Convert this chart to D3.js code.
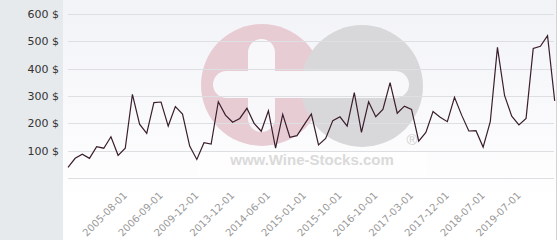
<!DOCTYPE html>
<html>
<head>
<meta charset="utf-8">
<script src="https://cdn.jsdelivr.net/npm/d3@7"></script>
<style>
  body { margin: 0; background: #fff; }
</style>
</head>
<body>
<div id="chart"></div>
<script>
// price per date (categories are irregular dates, only every 5th one is labelled)
var values = [39, 72, 87, 72, 115, 109, 151, 83, 109, 306,
              197, 163, 276, 278, 190, 261, 234, 117, 68, 129,
              124, 279, 230, 204, 218, 255, 200, 171, 246, 109,
              233, 149, 155, 195, 234, 121, 145, 210, 224, 190,
              312, 167, 279, 224, 251, 349, 237, 263, 251, 135,
              167, 243, 222, 206, 295, 230, 172, 173, 113, 206,
              478, 301, 226, 194, 218, 474, 482, 521, 282];

var tickLabels = ["2005-08-01", "2006-09-01", "2009-12-01", "2013-12-01",
                  "2014-06-01", "2015-01-01", "2015-10-01", "2016-10-01",
                  "2017-03-01", "2017-12-01", "2018-07-01", "2019-07-01"];
var tickIndex = [8, 13, 18, 23, 28, 33, 38, 43, 48, 53, 58, 63];

var yTicks = [100, 200, 300, 400, 500, 600];
var gridTicks = [0, 100, 200, 300, 400, 500, 600];

var width = 560, height = 240;
var plotLeft = 63, plotRight = 556;

var svg = d3.select("#chart")
  .append("svg")
    .attr("width", width)
    .attr("height", height);

// backgrounds
var grad = svg.append("defs").append("linearGradient")
    .attr("id", "bg")
    .attr("x1", 0).attr("y1", 0).attr("x2", 0).attr("y2", 1);
grad.append("stop").attr("offset", "0%").attr("stop-color", "#f2f3f7");
grad.append("stop").attr("offset", "85%").attr("stop-color", "#ffffff");

svg.append("rect")
    .attr("x", 0).attr("y", 0)
    .attr("width", plotLeft).attr("height", height)
    .attr("fill", "#e6eaed");

svg.append("rect")
    .attr("x", plotLeft).attr("y", 0)
    .attr("width", plotRight - plotLeft).attr("height", height)
    .attr("fill", "url(#bg)");

svg.append("line")
    .attr("x1", plotRight + 0.5).attr("x2", plotRight + 0.5)
    .attr("y1", 0).attr("y2", height)
    .attr("stroke", "#d4d4d4");

// scales
var x = d3.scalePoint()
    .domain(d3.range(values.length))
    .range([68, 554.7]);

var y = d3.scaleLinear()
    .domain([0, 600])
    .range([178, 14]);

// watermark logo
var logo = svg.append("g");
logo.append("circle").attr("cx", 262).attr("cy", 85).attr("r", 61).attr("fill", "#e8ccd4");
logo.append("circle").attr("cx", 362).attr("cy", 86).attr("r", 61).attr("fill", "#d8d8da");
logo.append("rect").attr("x", 213).attr("y", 71).attr("width", 196).attr("height", 27)
    .attr("rx", 13.5).attr("fill", "#f8f8fa");
logo.append("rect").attr("x", 248).attr("y", 39).attr("width", 27).attr("height", 93)
    .attr("rx", 13.5).attr("fill", "#f8f8fa");
logo.append("text")
    .attr("x", 412).attr("y", 145)
    .attr("text-anchor", "middle")
    .attr("font-family", "Liberation Sans, Arial, sans-serif")
    .attr("font-size", 15)
    .attr("fill", "#cfcfcf")
    .text("®");
logo.append("rect").attr("x", 197).attr("y", 152).attr("width", 230).attr("height", 25)
    .attr("fill", "#ffffff").attr("opacity", 0.6);
logo.append("text")
    .attr("x", 312).attr("y", 165)
    .attr("text-anchor", "middle")
    .attr("font-family", "Liberation Sans, Arial, sans-serif")
    .attr("font-weight", "bold")
    .attr("font-size", 15)
    .attr("fill", "#dadada")
    .text("www.Wine-Stocks.com");

// grid lines
svg.append("g")
  .selectAll("line")
  .data(gridTicks)
  .enter().append("line")
    .attr("x1", 68).attr("x2", 554)
    .attr("y1", function(d) { return Math.round(y(d)) + 0.5; })
    .attr("y2", function(d) { return Math.round(y(d)) + 0.5; })
    .attr("stroke", "#dedfe3");

// y axis
var yAxis = svg.append("g")
    .attr("transform", "translate(59,0)")
    .call(d3.axisLeft(y).tickValues(yTicks).tickSize(0).tickPadding(0)
      .tickFormat(function(d) { return d + " $"; }));
yAxis.select(".domain").remove();
yAxis.selectAll("text")
    .attr("font-family", "DejaVu Sans, sans-serif")
    .attr("font-size", 11)
    .attr("fill", "#333");

// x axis
var xAxis = svg.append("g")
    .attr("transform", "translate(0,178)")
    .call(d3.axisBottom(x).tickValues(tickIndex).tickSize(0)
      .tickFormat(function(d, i) { return tickLabels[i]; }));
xAxis.select(".domain").remove();
xAxis.selectAll("text")
    .attr("font-family", "DejaVu Sans, sans-serif")
    .attr("font-size", 10)
    .attr("fill", "#999")
    .attr("text-anchor", "end")
    .attr("dy", 0)
    .attr("y", 0)
    .attr("transform", "translate(2,18) rotate(-45)");

// price line
var line = d3.line()
    .x(function(d, i) { return x(i); })
    .y(function(d) { return y(d); });

svg.append("path")
    .datum(values)
    .attr("fill", "none")
    .attr("stroke", "#3a1e2c")
    .attr("stroke-width", 1.2)
    .attr("stroke-linejoin", "miter")
    .attr("d", line);
</script>
</body>
</html>
